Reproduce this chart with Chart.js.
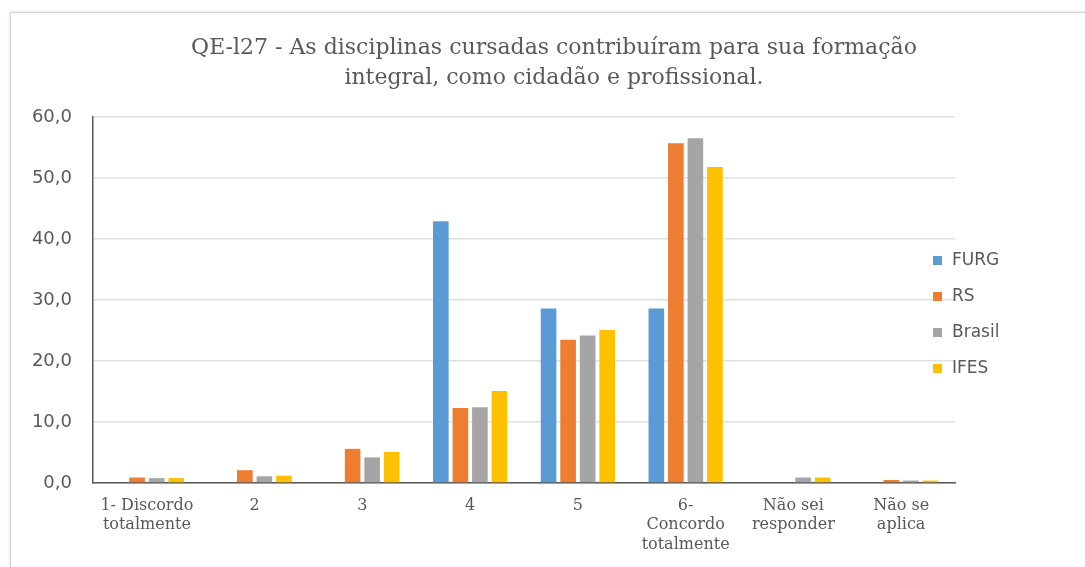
<!DOCTYPE html>
<html>
<head>
<meta charset="utf-8">
<script src="https://cdn.jsdelivr.net/npm/chart.js@4"></script>
<style>
  body { margin: 0; background: #fff; }
  #wrap { position: relative; width: 1085px; height: 567px; overflow: hidden; }
  #frame { position: absolute; left: 10px; top: 12px; width: 1200px; height: 700px;
           border-top: 1px solid #d4d4d4; border-left: 1px solid #d4d4d4;
           box-shadow: -1px -1px 2px rgba(0,0,0,0.08); }
  canvas { position: absolute; left: 0; top: 0; }
</style>
</head>
<body>
<div id="wrap">
  <div id="frame"></div>
  <canvas id="chart" width="1085" height="567"></canvas>
</div>
<script>
// data
const titleLines = ["QE-l27 - As disciplinas cursadas contribuíram para sua formação", "integral, como cidadão e profissional."];
const categories = [["1- Discordo", "totalmente"], "2", "3", "4", "5", ["6-", "Concordo", "totalmente"], ["Não sei", "responder"], ["Não se", "aplica"]];
const furg   = [0, 0, 0, 42.9, 28.6, 28.6, 0, 0];
const rs     = [0.9, 2.1, 5.6, 12.3, 23.5, 55.7, 0, 0.5];
const brasil = [0.8, 1.1, 4.2, 12.4, 24.2, 56.5, 0.9, 0.4];
const ifes   = [0.8, 1.2, 5.1, 15.1, 25.1, 51.8, 0.9, 0.4];
const yTicks = [0, 10, 20, 30, 40, 50, 60];

const grey = "#595959";

// title + legend drawn by hand so they sit where Excel put them
const decor = {
  id: "decor",
  afterDraw(chart) {
    const c = chart.ctx;
    c.save();
    c.fillStyle = grey;
    c.font = '22px "DejaVu Serif"';
    c.textAlign = "center";
    c.textBaseline = "alphabetic";
    c.fillText(titleLines[0], 554, 54);
    c.fillText(titleLines[1], 554, 84);

    c.font = '17px "DejaVu Sans"';
    c.textAlign = "left";
    c.textBaseline = "middle";
    chart.data.datasets.forEach((ds, i) => {
      const y = 260 + i * 36;
      c.fillStyle = ds.backgroundColor;
      c.fillRect(933, y - 4, 9, 9);
      c.fillStyle = grey;
      c.fillText(ds.label, 952, y + 1);
    });
    c.restore();
  }
};

new Chart(document.getElementById("chart"), {
  type: "bar",
  data: {
    labels: categories,
    datasets: [
      { label: "FURG", data: furg, backgroundColor: "#5B9BD5" },
      { label: "RS", data: rs, backgroundColor: "#ED7D31" },
      { label: "Brasil", data: brasil, backgroundColor: "#A5A5A5" },
      { label: "IFES", data: ifes, backgroundColor: "#FFC000" }
    ]
  },
  options: {
    responsive: false,
    animation: false,
    categoryPercentage: 0.725,
    barPercentage: 0.8,
    layout: { padding: { top: 117, right: 130, left: 0, bottom: 0 } },
    plugins: { legend: { display: false }, title: { display: false }, tooltip: { enabled: false } },
    scales: {
      x: {
        grid: { display: false, drawTicks: false },
        border: { display: true, color: grey, width: 1.5 },
        ticks: { color: grey, font: { family: "DejaVu Serif", size: 16, lineHeight: 1.22 }, padding: 13, maxRotation: 0, autoSkip: false },
        afterFit: s => { s.height = 84; }
      },
      y: {
        min: 0, max: 60,
        afterBuildTicks: s => { s.ticks = yTicks.map(v => ({ value: v })); },
        grid: { color: "#e0e0e0", lineWidth: 1.5, drawTicks: false },
        border: { display: true, color: grey, width: 1.5 },
        ticks: { color: grey, font: { family: "DejaVu Sans", size: 18 }, padding: 21,
                 callback: v => v.toFixed(1).replace(".", ",") },
        afterFit: s => { s.width = 93; }
      }
    }
  },
  plugins: [decor]
});
</script>
</body>
</html>
